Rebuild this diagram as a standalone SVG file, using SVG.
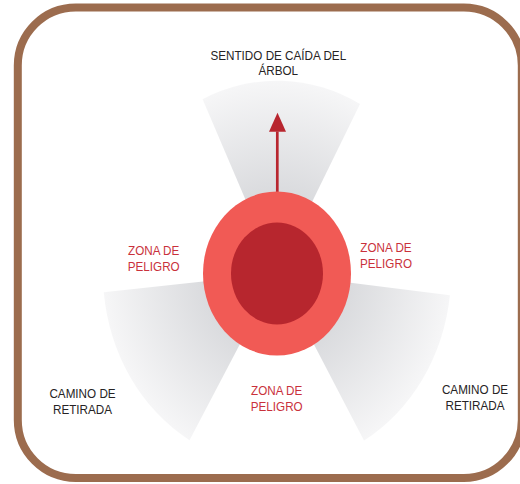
<svg xmlns="http://www.w3.org/2000/svg" width="520" height="484" viewBox="0 0 520 484">
  <defs>
    <radialGradient id="sg" gradientUnits="userSpaceOnUse" cx="0" cy="0" r="174">
      <stop offset="0.4" stop-color="#d9dadd"/>
      <stop offset="1" stop-color="#f6f6f7"/>
    </radialGradient>
  </defs>
  <style>
    .lbl { font-family: "Liberation Sans", Arial, sans-serif; font-size: 11.7px; text-anchor: middle; }
    .dark { fill: #262324; }
    .red { fill: #c9313b; }
    .sector { fill: url(#sg); }
  </style>
  <rect x="0" y="0" width="520" height="484" fill="#ffffff"/>
  <rect id="frame" x="17.8" y="7.5" width="504" height="470.5" rx="58" ry="58" fill="#ffffff" stroke="#9c6c4e" stroke-width="8"/>

  <g id="sectors" transform="translate(277,273.5) scale(1,1.108)">
    <path id="sector-fall" class="sector" d="M0,0 L-74.4,-157.3 A174,174 0 0 1 83,-152.9 Z"/>
    <path id="sector-retreat-left" class="sector" d="M0,0 L-87.5,150.4 A174,174 0 0 1 -173.2,17 Z"/>
    <path id="sector-retreat-right" class="sector" d="M0,0 L172.9,19.7 A174,174 0 0 1 87,150.7 Z"/>
  </g>

  <g id="connectors">
    <line x1="277.3" y1="194" x2="277.3" y2="131.5" stroke="#b8262f" stroke-width="2.7"/>
    <path d="M277.5,112.7 L286,131.7 L269,131.7 Z" fill="#b8262f"/>
  </g>

  <g id="tree" transform="translate(277,273.5) scale(1,1.108)">
    <circle r="74" fill="#f15a55"/>
    <circle r="46" fill="#b7262e"/>
  </g>

  <g id="label-fall">
    <text class="lbl dark" transform="translate(278.3,59.5) scale(1,1.1)">SENTIDO DE CAÍDA DEL</text>
    <text class="lbl dark" transform="translate(278.3,74.5) scale(1,1.1)">ÁRBOL</text>
  </g>
  <g id="label-danger-left">
    <text class="lbl red" transform="translate(153.7,254.5) scale(1,1.1)">ZONA DE</text>
    <text class="lbl red" transform="translate(153.7,270.5) scale(1,1.1)">PELIGRO</text>
  </g>
  <g id="label-danger-right">
    <text class="lbl red" transform="translate(386,251.5) scale(1,1.1)">ZONA DE</text>
    <text class="lbl red" transform="translate(386,267.5) scale(1,1.1)">PELIGRO</text>
  </g>
  <g id="label-danger-bottom">
    <text class="lbl red" transform="translate(276.7,395) scale(1,1.1)">ZONA DE</text>
    <text class="lbl red" transform="translate(276.7,411) scale(1,1.1)">PELIGRO</text>
  </g>
  <g id="label-retreat-left">
    <text class="lbl dark" transform="translate(82.5,397.5) scale(1,1.1)">CAMINO DE</text>
    <text class="lbl dark" transform="translate(82.5,413.5) scale(1,1.1)">RETIRADA</text>
  </g>
  <g id="label-retreat-right">
    <text class="lbl dark" transform="translate(475,394) scale(1,1.1)">CAMINO DE</text>
    <text class="lbl dark" transform="translate(475,410) scale(1,1.1)">RETIRADA</text>
  </g>
</svg>
